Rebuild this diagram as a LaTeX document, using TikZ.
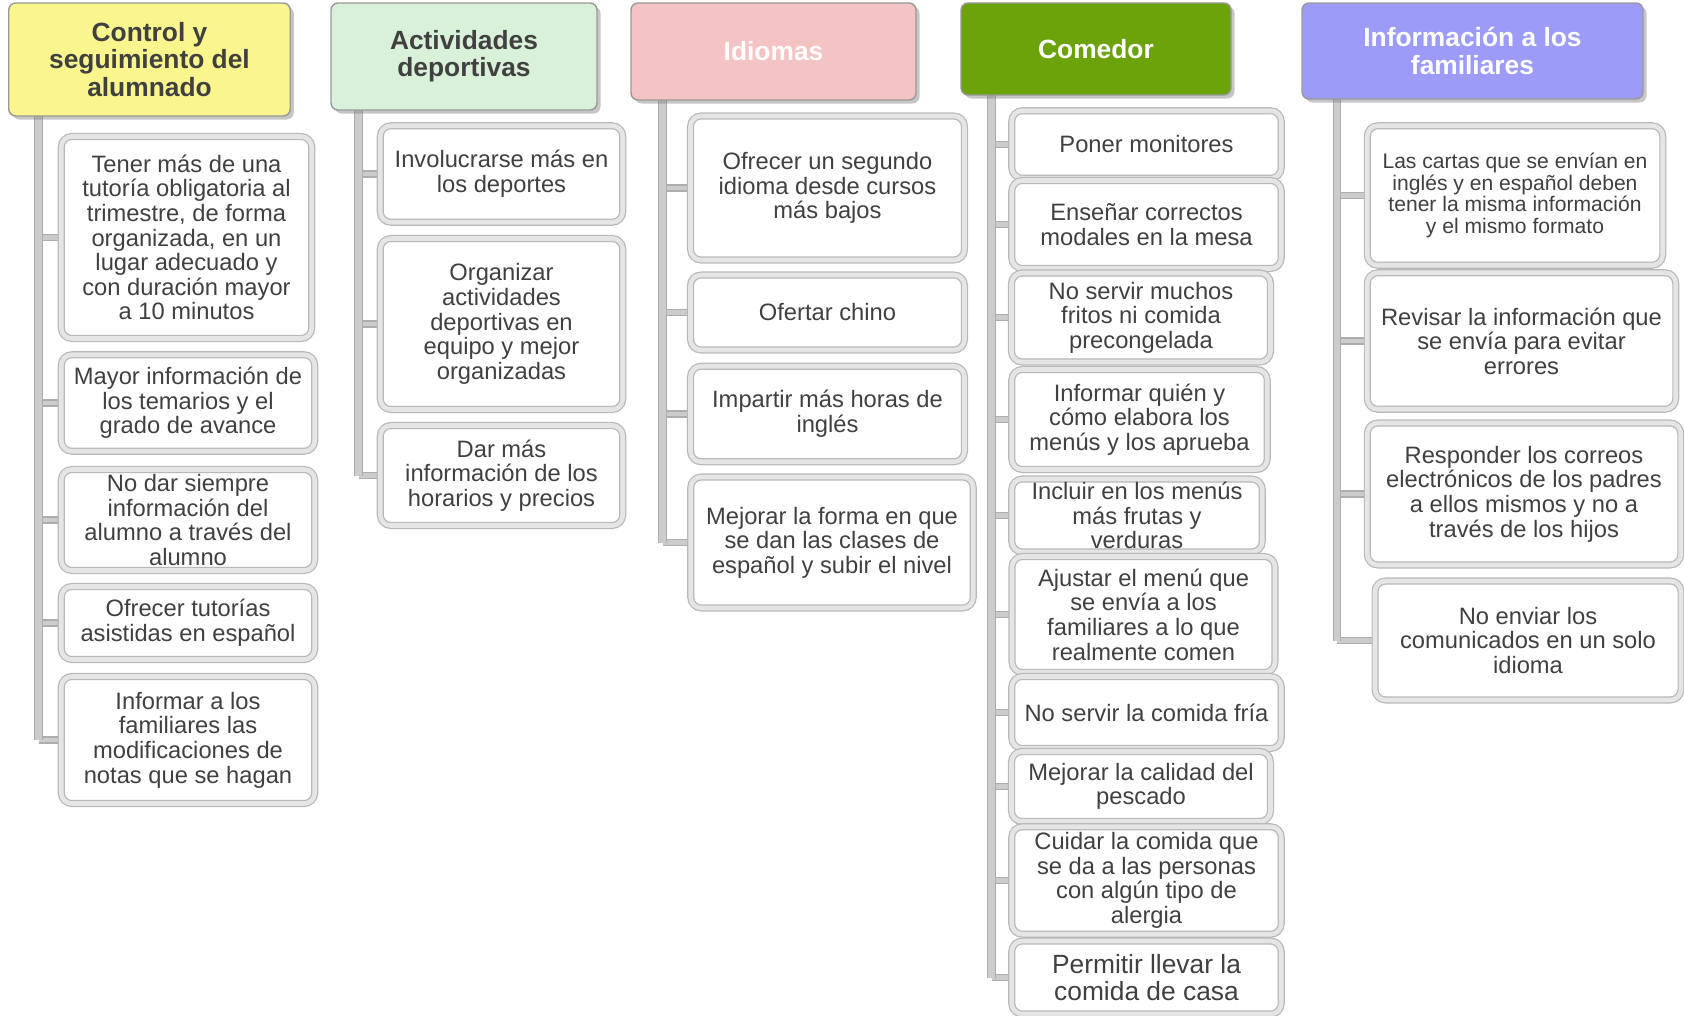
\documentclass[tikz,border=0pt]{standalone}
\usepackage{fontspec}
\setmainfont{Liberation Sans}
\usetikzlibrary{backgrounds,shadows}

\definecolor{textgray}{HTML}{404040}
\definecolor{yellowhead}{HTML}{FAF58C}
\definecolor{greenhead}{HTML}{D9F0D9}
\definecolor{pinkhead}{HTML}{F4C3C3}
\definecolor{grasshead}{HTML}{6CA20A}
\definecolor{bluehead}{HTML}{9C9CF8}

\tikzset{
  header/.style={draw=black!40, line width=0.8pt, rounded corners=4pt, align=center, inner sep=0pt,
    font=\fontsize{15}{15.5}\selectfont\bfseries,
    drop shadow={opacity=0.45, shadow xshift=0.7mm, shadow yshift=-0.7mm}},
  entry/.style={draw=black!28, line width=0.7pt, double=black!10, double distance=2.6pt,
    rounded corners=6pt, fill=white, align=center, inner sep=0pt, text=textgray,
    font=\fontsize{13.5}{14}\selectfont},
  trunk/.style={draw=black!32, line width=0.6pt, double=black!20, double distance=3.6pt},
  branch/.style={draw=black!32, line width=0.6pt, double=black!20, double distance=2.8pt}
}

\begin{document}
\begin{tikzpicture}
                \useasboundingbox (0,0) rectangle (33.68,-20.32);

                % headers
                \node[header, fill=yellowhead, text=textgray, minimum width=5.63cm, minimum height=2.26cm] (control) at (2.99,-1.19) {Control y\\seguimiento del\\alumnado};
                \node[header, fill=greenhead, text=textgray, minimum width=5.32cm, minimum height=2.14cm] (deportes) at (9.28,-1.13) {Actividades\\deportivas};
                \node[header, fill=pinkhead, text=white, minimum width=5.70cm, minimum height=1.94cm] (idiomas) at (15.47,-1.03) {Idiomas};
                \node[header, fill=grasshead, text=white, minimum width=5.40cm, minimum height=1.84cm] (comedor) at (21.92,-0.98) {Comedor};
                \node[header, fill=bluehead, text=white, minimum width=6.82cm, minimum height=1.92cm] (familias) at (29.45,-1.02) {Información a los\\familiares};

                \coordinate (controlx) at (0.77,-2.2);
                \coordinate (deportesx) at (7.17,-2.05);
                \coordinate (idiomasx) at (13.25,-1.9);
                \coordinate (comedorx) at (19.83,-1.8);
                \coordinate (familiasx) at (26.74,-1.85);

                % Control y seguimiento
                \node[entry, minimum width=5.01cm, minimum height=4.04cm] (control1) at (3.73,-4.75) {Tener más de una\\tutoría obligatoria al\\trimestre, de forma\\organizada, en un\\lugar adecuado y\\con duración mayor\\a 10 minutos};
                \node[entry, minimum width=5.07cm, minimum height=1.93cm] (control2) at (3.76,-8.06) {Mayor información de\\los temarios y el\\grado de avance};
                \node[entry, minimum width=5.07cm, minimum height=2.02cm] (control3) at (3.76,-10.40) {No dar siempre\\información del\\alumno a través del\\alumno};
                \node[entry, minimum width=5.07cm, minimum height=1.46cm] (control4) at (3.76,-12.46) {Ofrecer tutorías\\asistidas en español};
                \node[entry, minimum width=5.07cm, minimum height=2.54cm] (control5) at (3.76,-14.80) {Informar a los\\familiares las\\modificaciones de\\notas que se hagan};

                % Actividades deportivas
                \node[entry, minimum width=4.85cm, minimum height=1.93cm] (deportes1) at (10.03,-3.48) {Involucrarse más en\\los deportes};
                \node[entry, minimum width=4.85cm, minimum height=3.42cm] (deportes2) at (10.03,-6.48) {Organizar\\actividades\\deportivas en\\equipo y mejor\\organizadas};
                \node[entry, minimum width=4.85cm, minimum height=2.00cm] (deportes3) at (10.03,-9.51) {Dar más\\información de los\\horarios y precios};

                % Idiomas
                \node[entry, minimum width=5.48cm, minimum height=2.88cm] (idiomas1) at (16.55,-3.76) {Ofrecer un segundo\\idioma desde cursos\\más bajos};
                \node[entry, minimum width=5.48cm, minimum height=1.50cm] (idiomas2) at (16.55,-6.25) {Ofertar chino};
                \node[entry, minimum width=5.48cm, minimum height=1.91cm] (idiomas3) at (16.55,-8.28) {Impartir más horas de\\inglés};
                \node[entry, minimum width=5.65cm, minimum height=2.62cm] (idiomas4) at (16.64,-10.85) {Mejorar la forma en que\\se dan las clases de\\español y subir el nivel};

                % Comedor
                \node[entry, minimum width=5.39cm, minimum height=1.35cm] (comedor1) at (22.93,-2.89) {Poner monitores};
                \node[entry, minimum width=5.39cm, minimum height=1.76cm] (comedor2) at (22.93,-4.49) {Enseñar correctos\\modales en la mesa};
                \node[entry, minimum width=5.18cm, minimum height=1.78cm] (comedor3) at (22.82,-6.35) {No servir muchos\\fritos ni comida\\precongelada};
                \node[entry, minimum width=5.11cm, minimum height=2.00cm] (comedor4) at (22.79,-8.39) {Informar quién y\\cómo elabora los\\menús y los aprueba};
                \node[entry, minimum width=5.01cm, minimum height=1.46cm] (comedor5) at (22.74,-10.31) {Incluir en los menús\\más frutas y\\verduras};
                \node[entry, minimum width=5.26cm, minimum height=2.32cm] (comedor6) at (22.87,-12.29) {Ajustar el menú que\\se envía a los\\familiares a lo que\\realmente comen};
                \node[entry, minimum width=5.39cm, minimum height=1.44cm] (comedor7) at (22.93,-14.25) {No servir la comida fría};
                \node[entry, minimum width=5.18cm, minimum height=1.40cm] (comedor8) at (22.82,-15.73) {Mejorar la calidad del\\pescado};
                \node[entry, minimum width=5.39cm, minimum height=2.15cm] (comedor9) at (22.93,-17.61) {Cuidar la comida que\\se da a las personas\\con algún tipo de\\alergia};
                \node[entry, minimum width=5.39cm, minimum height=1.46cm, font=\fontsize{15}{15.5}\selectfont] (comedor10) at (22.93,-19.55) {Permitir llevar la\\comida de casa};

                % Informacion a los familiares
                \node[entry, minimum width=5.91cm, minimum height=2.79cm, font=\fontsize{12}{12.4}\selectfont] (familias1) at (30.30,-3.91) {Las cartas que se envían en\\inglés y en español deben\\tener la misma información\\y el mismo formato};
                \node[entry, minimum width=6.17cm, minimum height=2.73cm] (familias2) at (30.43,-6.82) {Revisar la información que\\se envía para evitar\\errores};
                \node[entry, minimum width=6.27cm, minimum height=2.84cm] (familias3) at (30.48,-9.88) {Responder los correos\\electrónicos de los padres\\a ellos mismos y no a\\través de los hijos};
                \node[entry, minimum width=6.12cm, minimum height=2.38cm] (familias4) at (30.56,-12.81) {No enviar los\\comunicados en un solo\\idioma};

                \begin{scope}[on background layer]
                    \foreach \n in {1,...,5} \draw[branch] (controlx |- control\n) -- (control\n.west);
                    \foreach \n in {1,...,3} \draw[branch] (deportesx |- deportes\n) -- (deportes\n.west);
                    \foreach \n in {1,...,4} \draw[branch] (idiomasx |- idiomas\n) -- (idiomas\n.west);
                    \foreach \n in {1,...,10} \draw[branch] (comedorx |- comedor\n) -- (comedor\n.west);
                    \foreach \n in {1,...,4} \draw[branch] (familiasx |- familias\n) -- (familias\n.west);

                    \draw[trunk] (controlx) -- (controlx |- control5);
                    \draw[trunk] (deportesx) -- (deportesx |- deportes3);
                    \draw[trunk] (idiomasx) -- (idiomasx |- idiomas4);
                    \draw[trunk] (comedorx) -- (comedorx |- comedor10);
                    \draw[trunk] (familiasx) -- (familiasx |- familias4);
                \end{scope}
            \end{tikzpicture}
\end{document}
